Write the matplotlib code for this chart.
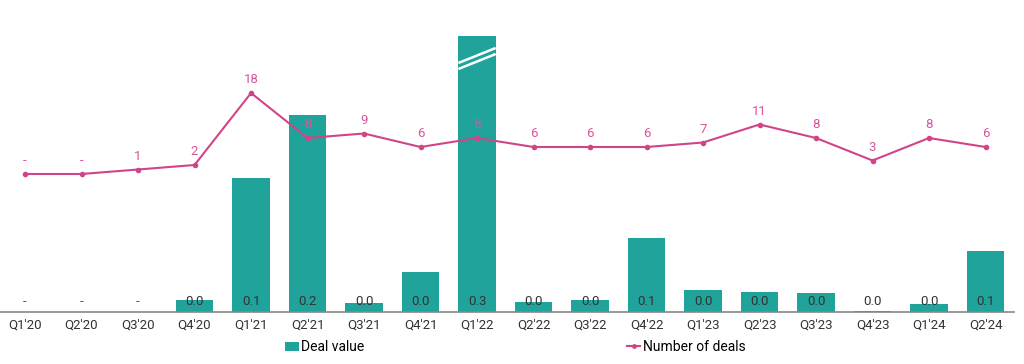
import matplotlib
matplotlib.use("Agg")
import matplotlib.pyplot as plt
from matplotlib.lines import Line2D
from matplotlib.patches import Patch

quarters = ["Q1'20", "Q2'20", "Q3'20", "Q4'20", "Q1'21", "Q2'21", "Q3'21", "Q4'21", "Q1'22",
            "Q2'22", "Q3'22", "Q4'22", "Q1'23", "Q2'23", "Q3'23", "Q4'23", "Q1'24", "Q2'24"]
deal_value = [0.0, 0.0, 0.0, 0.012, 0.134, 0.197, 0.009, 0.040, 0.300,
              0.010, 0.012, 0.074, 0.022, 0.020, 0.019, 0.001, 0.008, 0.061]
deal_value_labels = ["-", "-", "-", "0.0", "0.1", "0.2", "0.0", "0.0", "0.3",
                     "0.0", "0.0", "0.1", "0.0", "0.0", "0.0", "0.0", "0.0", "0.1"]
num_deals = [0, 0, 1, 2, 18, 8, 9, 6, 8, 6, 6, 6, 7, 11, 8, 3, 8, 6]
num_deals_labels = ["-", "-", "1", "2", "18", "8", "9", "6", "8", "6", "6", "6", "7", "11", "8", "3", "8", "6"]

TEAL = "#20a39b"
PINK = "#d0458a"
PINK_TXT = "#d8559a"
DARK = "#333333"
NARROW = ["Liberation Sans Narrow", "Roboto", "DejaVu Sans"]
REG = ["Roboto", "DejaVu Sans"]

fig = plt.figure(figsize=(10.24, 3.64), dpi=100)
ax = fig.add_axes([0.0, 52 / 364, 0.99, 276 / 364])
x = list(range(len(quarters)))
ax.bar(x, deal_value, width=0.66, color=TEAL, zorder=2)
ax.set_ylim(0, 0.276)
ax.set_xlim(-0.443, 17.5)

# break marks on clipped bar
imax = deal_value.index(max(deal_value))
for off in (0.0, 0.006):
    ax.plot([imax - 0.33, imax + 0.33], [0.243 + off, 0.258 + off], color="white",
            lw=1.8, zorder=3, solid_capstyle="butt")

for i, lab in enumerate(deal_value_labels):
    ax.annotate(lab, (i, 0), xytext=(0, 3), textcoords="offset points", ha="center",
                va="bottom", fontsize=9.5, color=DARK if lab != "-" else "#555555",
                family=REG, zorder=4)

for s in ["top", "right", "left"]:
    ax.spines[s].set_visible(False)
ax.spines["bottom"].set_color("#888888")
ax.spines["bottom"].set_linewidth(1.2)
ax.set_yticks([])
ax.set_xticks(x)
ax.set_xticklabels(quarters, fontsize=9.5, family=NARROW, color=DARK)
ax.tick_params(axis="x", length=0, pad=5)

ax2 = ax.twinx()
ax2.plot(x, num_deals, color=PINK, lw=1.5, marker="o", markersize=3, zorder=5)
ax2.set_ylim(-30.67, 30.67)
ax2.set_yticks([])
for s in ["top", "right", "left", "bottom"]:
    ax2.spines[s].set_visible(False)
for i, lab in enumerate(num_deals_labels):
    ax2.annotate(lab, (i, num_deals[i]), xytext=(0, 5), textcoords="offset points",
                 ha="center", va="bottom", fontsize=9.5, color=PINK_TXT, family=REG)

handles = [Patch(facecolor=TEAL, edgecolor="none"),
           Line2D([0], [0], color=PINK, lw=1.5, marker="o", markersize=2.5)]
fig.legend(handles, ["Deal value", "Number of deals"], loc="center",
           bbox_to_anchor=(0.503, 17 / 364), ncol=2, frameon=False,
           prop={"family": NARROW, "size": 10}, handlelength=1.0, handleheight=0.6,
           handletextpad=0.15, columnspacing=18.9)

fig.savefig("out.png", dpi=100)
